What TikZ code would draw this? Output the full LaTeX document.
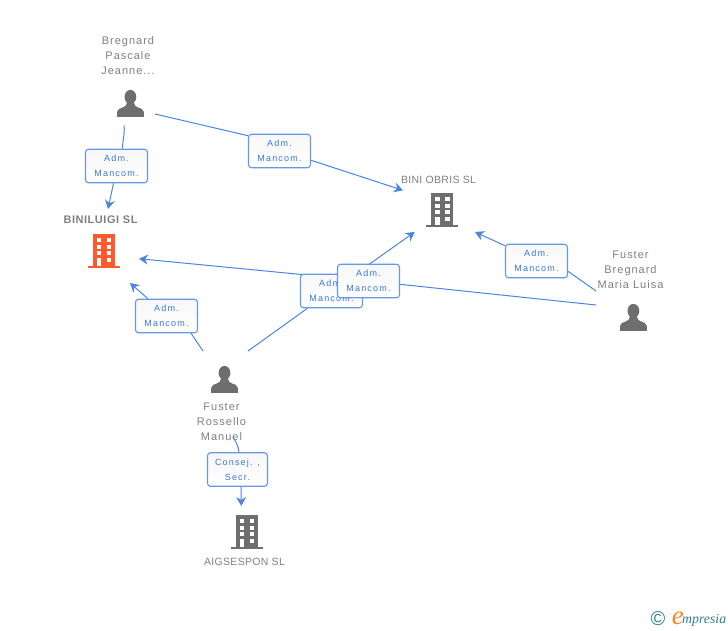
\documentclass[tikz,border=0pt]{standalone}
\usepackage{fontspec}
\usetikzlibrary{arrows.meta,calc,backgrounds,shapes.misc}
\setmainfont{Liberation Sans}
\newfontfamily\personfont[LetterSpace=9]{Liberation Sans}
\newfontfamily\linkfont[LetterSpace=13]{Liberation Sans}
\newfontfamily\compfont[LetterSpace=3]{Liberation Sans}
\newfontfamily\boldfont[LetterSpace=5,BoldFont={Liberation Sans Bold}]{Liberation Sans}
\newfontfamily\logofont{Liberation Serif}
\definecolor{linkblue}{HTML}{4A86E0}
\definecolor{linktext}{HTML}{3A78D8}
\definecolor{txtgray}{HTML}{808080}
\definecolor{icongray}{HTML}{6E6E6E}
\definecolor{iconorange}{HTML}{FF5A2B}
\definecolor{logoteal}{HTML}{2F7F99}
\definecolor{logoorange}{HTML}{F58A1F}
\tikzset{
  x=1pt,y=-1pt,
  conn/.style={draw=linkblue,line width=1pt},
  connarrow/.style={conn,-{Stealth[length=9pt,width=10pt,inset=3pt]}},
  linkbox/.style={draw=linkblue!85!white,line width=1.1pt,rounded corners=3pt,top color=black!3,bottom color=white,
    minimum width=62pt,minimum height=33.5pt,inner sep=0pt,align=center,text=linktext,
    font=\linkfont\fontsize{9}{15}\selectfont,execute at begin node={\rule{0pt}{11pt}}},
  persontext/.style={align=center,text=txtgray,inner sep=0pt,font=\personfont\fontsize{11}{15}\selectfont},
  comptext/.style={align=center,text=txtgray,inner sep=0pt,font=\compfont\fontsize{10.5}{13}\selectfont},
  mainname/.style={align=center,text=txtgray,inner sep=0pt,font=\boldfont\bfseries\fontsize{11}{13}\selectfont},
  iconspot/.style={inner sep=0pt,minimum width=27pt,minimum height=27pt},
  person/.pic={
    \fill[icongray] (0,-6.5) ellipse [x radius=5.9pt,y radius=7pt];
    \fill[icongray] (-13.4,13.4) -- (-13.4,8.5) .. controls (-13.2,5.5) and (-10,5) .. (-7.5,4)
       .. controls (-5,3) and (-3.5,2) .. (-3.5,-1) -- (3.5,-1)
       .. controls (3.5,2) and (5,3) .. (7.5,4) .. controls (10,5) and (13.2,5.5) .. (13.4,8.5)
       -- (13.4,13.4) -- cycle;
  },
  building/.pic={
    \fill[pic actions] (-11,-17) rectangle (11,15.5);
    \fill[pic actions] (-16,15) rectangle (16,17.2);
    \foreach \yy in {-13,-6.5,0}{
      \fill[white] (-7.4,\yy) rectangle (-2.6,\yy+4.3);
      \fill[white] (2.6,\yy) rectangle (7.4,\yy+4.3);
    }
    \fill[white] (-7.4,6.7) rectangle (-2.6,15);
    \fill[white] (2.6,6.7) rectangle (7.4,11);
  }
}
\begin{document}
\begin{tikzpicture}
\useasboundingbox (0,0) rectangle (728,630);
% entities
\node[iconspot] (bregnard) at (130.4,103.4) {};
\node[iconspot] (manuel) at (224.5,379.4) {};
\node[iconspot] (maria) at (633.4,317.4) {};
\node[iconspot] (biniluigi) at (104,251) {};
\node[iconspot] (obris) at (442.3,210) {};
\node[iconspot] (aigsespon) at (247,532) {};
\pic at (bregnard) {person};
\pic at (manuel) {person};
\pic at (maria) {person};
\pic[fill=iconorange] at (biniluigi) {building};
\pic[fill=icongray] at (obris) {building};
\pic[fill=icongray] at (aigsespon) {building};
% texts
\node[persontext] (tbregnard) at (128,56) {Bregnard\\Pascale\\Jeanne...};
\node[persontext] (tmanuel) at (221.5,422) {Fuster\\Rossello\\Manuel};
\node[persontext] (tmaria) at (630.5,270) {Fuster\\Bregnard\\Maria Luisa};
\node[mainname] (tbiniluigi) at (100.5,219.5) {BINILUIGI SL};
\node[comptext] (tobris) at (438.5,179.5) {BINI OBRIS SL};
\node[comptext] (taigsespon) at (244.5,561.5) {AIGSESPON SL};
% link labels, back to front
\node[linkbox] (lab1) at (116.5,166) {Adm.\\Mancom.};
\node[linkbox] (lab2) at (279.5,151) {Adm.\\Mancom.};
\node[linkbox] (lab3) at (166.5,316) {Adm.\\Mancom.};
\node[linkbox] (lab4) at (331.5,291) {Adm.\\Mancom.};
\node[linkbox] (lab5) at (368.5,281) {Adm.\\Mancom.};
\node[linkbox] (lab6) at (536.5,261) {Adm.\\Mancom.};
\node[linkbox,minimum width=60pt] (lab7) at (237.5,469.5) {Consej. ,\\Secr.};
% free ends of the connectors
\coordinate (bregA) at ($(bregnard)+(-6.2,22)$);
\coordinate (bregB) at ($(bregnard)+(24.6,10.6)$);
\coordinate (manA) at ($(manuel)+(-21.5,-28.4)$);
\coordinate (manB) at ($(manuel)+(23.5,-28.4)$);
\coordinate (manC) at ($(manuel)+(8.5,57.6)$);
\coordinate (marA) at ($(maria)+(-37.4,-12.4)$);
\coordinate (marB) at ($(maria)+(-37.4,-26.4)$);
\coordinate (luiA) at ($(biniluigi)+(4,-42)$);
\coordinate (luiB) at ($(biniluigi)+(35,7.7)$);
\coordinate (luiC) at ($(biniluigi)+(26,32)$);
\coordinate (obrA) at ($(obris)+(-39.3,-19.7)$);
\coordinate (obrB) at ($(obris)+(-27.6,22)$);
\coordinate (obrC) at ($(obris)+(32.7,22)$);
\coordinate (aigA) at ($(aigsespon)+(-5.7,-26)$);
\begin{scope}[on background layer]
\fill[white] (0,0) rectangle (728,630);
\draw[conn] (bregA) .. controls ($(bregA)+(0.5,10)$) and ($(lab1.north)+(6,-8)$) .. ($(lab1.north)+(6,0)$);
\draw[connarrow] ($(lab1.south)+(-3,0)$) -- (luiA);
\draw[conn] (bregB) -- ($(lab2.north west)+(0,2)$);
\draw[connarrow] ($(lab2.south east)+(0,-8)$) -- (obrA);
\draw[conn] (manA) -- ($(lab3.south east)+(-7,0)$);
\draw[connarrow] ($(lab3.north west)+(13,0)$) -- (luiC);
\draw[conn] (manB) -- (lab4);
\draw[connarrow] (lab4) -- (obrB);
\draw[conn] (marA) -- (lab5);
\draw[connarrow] (lab5) -- (luiB);
\draw[conn] (marB) -- ($(lab6.south east)+(0,-7)$);
\draw[connarrow] ($(lab6.north west)+(0,2)$) -- (obrC);
\draw[conn] (manC) .. controls ($(manC)+(3,5)$) and ($(lab7.north)+(1,-6)$) .. ($(lab7.north)+(1.5,0)$);
\draw[connarrow] ($(lab7.south)+(3.5,0)$) -- (aigA);
\end{scope}
% logo
\node[inner sep=0pt,text=logoteal,font=\fontsize{20}{20}\selectfont] (logoc) at (658,619) {©};
\node[inner sep=0pt,anchor=base west,font=\logofont\itshape\fontsize{13.8}{14}\selectfont,text=logoteal] (logot) at (682,623.5) {mpresia};
\node[inner sep=0pt,anchor=base east,font=\logofont\itshape\fontsize{27}{27}\selectfont,text=logoorange] (logoe) at (684,624.5) {e};
\end{tikzpicture}
\end{document}
